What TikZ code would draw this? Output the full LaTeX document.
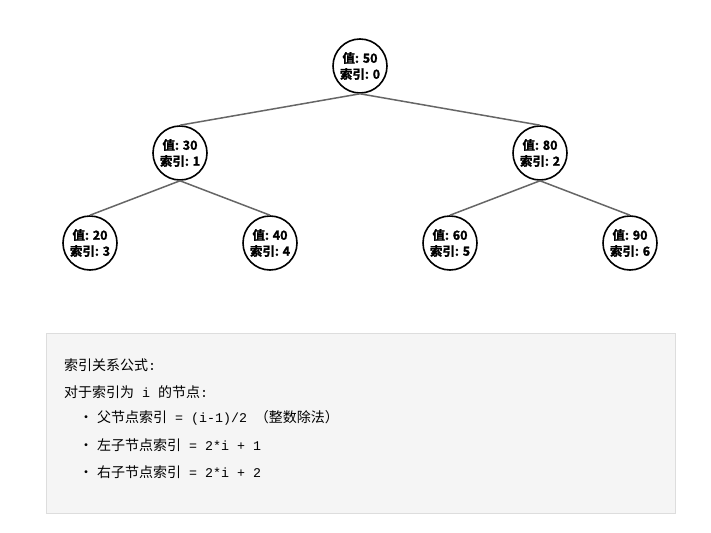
\documentclass[tikz,border=0pt]{standalone}
\usepackage{fontspec}
\newfontfamily\cjk{Noto Sans CJK SC}
\newfontfamily\cjkb[FakeBold=1.5]{Noto Sans CJK SC Bold}
\newfontfamily\mono[Scale=0.95]{Liberation Mono}
\usetikzlibrary{positioning}
\definecolor{cedge}{HTML}{666666}
\definecolor{cpanel}{HTML}{F5F5F5}
\definecolor{cframe}{HTML}{DDDDDD}
\tikzset{
  heapnode/.style={draw, circle, line width=1.6pt, fill=white, minimum size=54pt, inner sep=0pt, align=center, font=\cjkb\fontsize{12.5}{14}\selectfont},
  link/.style={cedge, line width=1.5pt},
  note/.style={anchor=west, inner sep=0pt, font=\fontsize{14}{16}\selectfont},
}

\begin{document}
\begin{tikzpicture}[x=1pt, y=-1pt]
      \useasboundingbox (0,0) rectangle (711,532);
      \node[heapnode] (n0) at (360,66) {值: 50\\[2pt]索引: 0};
      \node[heapnode] (n1) at (180,153) {值: 30\\[2pt]索引: 1};
      \node[heapnode] (n2) at (540,153) {值: 80\\[2pt]索引: 2};
      \node[heapnode] (n3) at (90,243) {值: 20\\[2pt]索引: 3};
      \node[heapnode] (n4) at (270,243) {值: 40\\[2pt]索引: 4};
      \node[heapnode] (n5) at (450,243) {值: 60\\[2pt]索引: 5};
      \node[heapnode] (n6) at (630,243) {值: 90\\[2pt]索引: 6};
      \draw[link] (n0.south) -- (n1.north);
      \draw[link] (n0.south) -- (n2.north);
      \draw[link] (n1.south) -- (n3.north);
      \draw[link] (n1.south) -- (n4.north);
      \draw[link] (n2.south) -- (n5.north);
      \draw[link] (n2.south) -- (n6.north);
      % formula panel
      \draw[cframe, fill=cpanel, line width=1pt] (46,333) rectangle (675,513);
      \node[note] (title) at (64,365) {\cjk 索引关系公式\mono :};
      \node[note] (intro) at (64,392) {\cjk 对于索引为\mono{ i }\cjk 的节点\mono :};
      \node[note] (parent) at (79,418) {\cjk ・\hspace{4pt}父节点索引\mono{ = (i-1)/2 }\cjk （整数除法）};
      \node[note] (left) at (79,445) {\cjk ・\hspace{4pt}左子节点索引\mono{ = 2*i + 1}};
      \node[note] (right) at (79,472) {\cjk ・\hspace{4pt}右子节点索引\mono{ = 2*i + 2}};
    \end{tikzpicture}
\end{document}
